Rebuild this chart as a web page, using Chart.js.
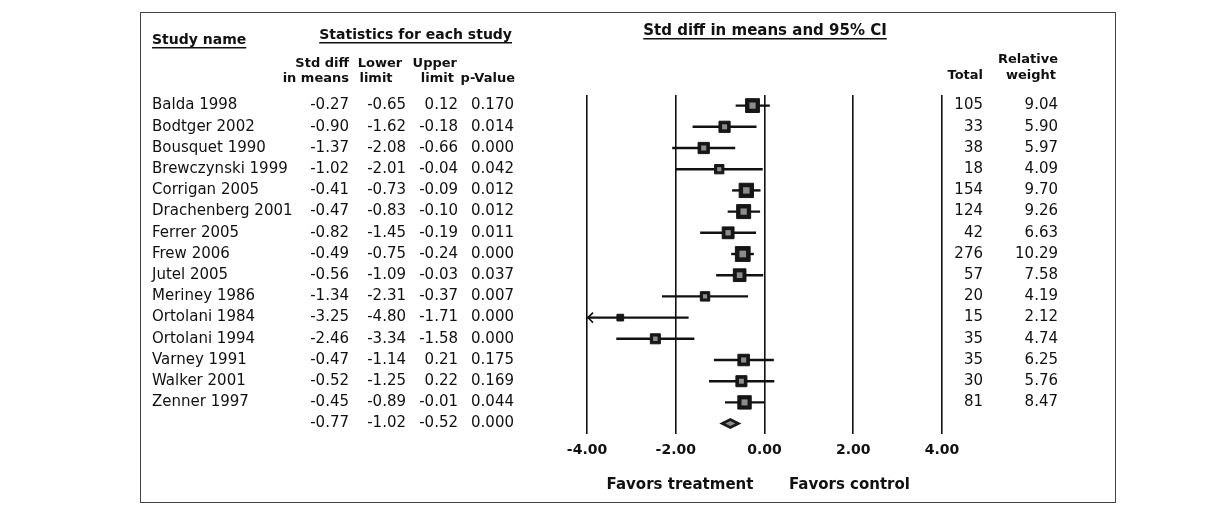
<!DOCTYPE html>
<html>
<head>
<meta charset="utf-8">
<title>Forest plot</title>
<script src="https://cdn.jsdelivr.net/npm/chart.js@4.4.1/dist/chart.umd.min.js"></script>
<style>
  html, body { margin: 0; padding: 0; background: #fff; }
  #wrap { width: 1214px; height: 510px; }
</style>
</head>
<body>
<div id="wrap"><canvas id="forest" width="1214" height="510"></canvas></div>
<script>
// rows of the forest plot, top to bottom
var studies = ['Balda 1998', 'Bodtger 2002', 'Bousquet 1990', 'Brewczynski 1999', 'Corrigan 2005',
  'Drachenberg 2001', 'Ferrer 2005', 'Frew 2006', 'Jutel 2005', 'Meriney 1986',
  'Ortolani 1984', 'Ortolani 1994', 'Varney 1991', 'Walker 2001', 'Zenner 1997'];
var stdDiff    = [-0.27, -0.90, -1.37, -1.02, -0.41, -0.47, -0.82, -0.49, -0.56, -1.34, -3.25, -2.46, -0.47, -0.52, -0.45];
var lowerLimit = [-0.65, -1.62, -2.08, -2.01, -0.73, -0.83, -1.45, -0.75, -1.09, -2.31, -4.80, -3.34, -1.14, -1.25, -0.89];
var upperLimit = [0.12, -0.18, -0.66, -0.04, -0.09, -0.10, -0.19, -0.24, -0.03, -0.37, -1.71, -1.58, 0.21, 0.22, -0.01];
var pValues    = ['0.170', '0.014', '0.000', '0.042', '0.012', '0.012', '0.011', '0.000', '0.037', '0.007',
  '0.000', '0.000', '0.175', '0.169', '0.044'];
var totals     = [105, 33, 38, 18, 154, 124, 42, 276, 57, 20, 15, 35, 35, 30, 81];
var relWeight  = ['9.04', '5.90', '5.97', '4.09', '9.70', '9.26', '6.63', '10.29', '7.58', '4.19',
  '2.12', '4.74', '6.25', '5.76', '8.47'];

// pooled (summary) row: estimate, lower, upper
var pooledStats = [-0.77, -1.02, -0.52];
var pooledP = '0.000';

var xMin = -4, xMax = 4, xStep = 2;

var FONT = '"DejaVu Sans", Verdana, sans-serif';
var INK = '#111';

function boxSide(w) { return Math.sqrt(parseFloat(w)) * 4.6; }

function txt(ctx, s, x, y, align, font, underline) {
  ctx.font = font;
  ctx.textAlign = align;
  ctx.textBaseline = 'middle';
  ctx.fillStyle = INK;
  ctx.fillText(s, x, y);
  if (underline) {
    var w = ctx.measureText(s).width;
    var x0 = align === 'left' ? x : (align === 'right' ? x - w : x - w / 2);
    ctx.fillRect(x0, y + 7, w, 1.5);
  }
}

var forestPlugin = {
  id: 'forest',
  beforeDatasetsDraw: function (chart) {
    var ctx = chart.ctx, xs = chart.scales.x, ys = chart.scales.y;
    ctx.save();
    ctx.strokeStyle = INK;
    ctx.lineWidth = 2.4;
    for (var i = 0; i < studies.length; i++) {
      var lo = Math.max(lowerLimit[i], xMin), hi = Math.min(upperLimit[i], xMax);
      var y = ys.getPixelForValue(i);
      ctx.beginPath();
      ctx.moveTo(xs.getPixelForValue(lo), y);
      ctx.lineTo(xs.getPixelForValue(hi), y);
      ctx.stroke();
      if (lowerLimit[i] < xMin) {
        // arrow for a limit beyond the axis
        var xa = xs.getPixelForValue(xMin);
        ctx.lineWidth = 1.6;
        ctx.beginPath();
        ctx.moveTo(xa + 6, y - 5);
        ctx.lineTo(xa + 1, y);
        ctx.lineTo(xa + 6, y + 5);
        ctx.stroke();
        ctx.lineWidth = 2.4;
      }
    }
    ctx.restore();
  },
  afterDatasetsDraw: function (chart) {
    var ctx = chart.ctx, xs = chart.scales.x, ys = chart.scales.y;
    var meta = chart.getDatasetMeta(0);
    ctx.save();
    // grey speckle inside each box
    meta.data.forEach(function (el, i) {
      var s = boxSide(relWeight[i]) * 0.45;
      if (s < 4) return;
      ctx.fillStyle = '#8c8c8c';
      ctx.fillRect(el.x - s / 2, el.y - s / 2, s, s);
    });
    // pooled diamond
    var yd = ys.getPixelForValue(studies.length);
    var xe = xs.getPixelForValue(pooledStats[0]);
    var xl = xs.getPixelForValue(pooledStats[1]);
    var xh = xs.getPixelForValue(pooledStats[2]);
    ctx.fillStyle = '#1a1a1a';
    ctx.beginPath();
    ctx.moveTo(xl, yd);
    ctx.lineTo(xe, yd - 5.5);
    ctx.lineTo(xh, yd);
    ctx.lineTo(xe, yd + 5.5);
    ctx.closePath();
    ctx.fill();
    ctx.fillStyle = '#8c8c8c';
    ctx.beginPath();
    ctx.moveTo(xe - 5, yd);
    ctx.lineTo(xe, yd - 2.5);
    ctx.lineTo(xe + 5, yd);
    ctx.lineTo(xe, yd + 2.5);
    ctx.closePath();
    ctx.fill();
    ctx.restore();
  },
  afterDraw: function (chart) {
    var ctx = chart.ctx, xs = chart.scales.x, ys = chart.scales.y;
    ctx.save();
    var bold = 'bold 13px ' + FONT;
    var title = 'bold 14px ' + FONT;
    var reg = '15px ' + FONT;

    // outer frame
    ctx.strokeStyle = '#444';
    ctx.lineWidth = 1;
    ctx.strokeRect(140.5, 12.5, 975, 490);

    // headers
    txt(ctx, 'Study name', 152, 40, 'left', title, true);
    txt(ctx, 'Statistics for each study', 512, 35, 'right', title, true);
    txt(ctx, 'Std diff in means and 95% CI', 765, 31, 'center', 'bold 15px ' + FONT, true);
    txt(ctx, 'Std diff', 349, 64, 'right', bold);
    txt(ctx, 'in means', 349, 79, 'right', bold);
    txt(ctx, 'Lower', 380, 64, 'center', bold);
    txt(ctx, 'limit', 376, 79, 'center', bold);
    txt(ctx, 'Upper', 457, 64, 'right', bold);
    txt(ctx, 'limit', 454, 79, 'right', bold);
    txt(ctx, 'p-Value', 515, 79, 'right', bold);
    txt(ctx, 'Relative', 1058, 60, 'right', bold);
    txt(ctx, 'Total', 983, 76, 'right', bold);
    txt(ctx, 'weight', 1056, 76, 'right', bold);

    // table rows
    for (var i = 0; i < studies.length; i++) {
      var y = ys.getPixelForValue(i);
      txt(ctx, studies[i], 152, y, 'left', reg);
      txt(ctx, stdDiff[i].toFixed(2), 349, y, 'right', reg);
      txt(ctx, lowerLimit[i].toFixed(2), 406, y, 'right', reg);
      txt(ctx, upperLimit[i].toFixed(2), 458, y, 'right', reg);
      txt(ctx, pValues[i], 514, y, 'right', reg);
      txt(ctx, String(totals[i]), 983, y, 'right', reg);
      txt(ctx, relWeight[i], 1058, y, 'right', reg);
    }
    var yp = ys.getPixelForValue(studies.length);
    txt(ctx, pooledStats[0].toFixed(2), 349, yp, 'right', reg);
    txt(ctx, pooledStats[1].toFixed(2), 406, yp, 'right', reg);
    txt(ctx, pooledStats[2].toFixed(2), 458, yp, 'right', reg);
    txt(ctx, pooledP, 514, yp, 'right', reg);

    // direction labels under the axis
    var yl = 485;
    var dirFont = 'bold 15px ' + FONT;
    txt(ctx, 'Favors treatment', xs.getPixelForValue(-0.25), yl, 'right', dirFont);
    txt(ctx, 'Favors control', xs.getPixelForValue(0.55), yl, 'left', dirFont);
    ctx.restore();
  }
};

var ctx = document.getElementById('forest').getContext('2d');
new Chart(ctx, {
  type: 'scatter',
  data: {
    datasets: [{
      data: stdDiff.map(function (v, i) { return { x: v, y: i }; }),
      pointStyle: 'rect',
      pointRadius: relWeight.map(function (w) { return boxSide(w) / Math.SQRT2; }),
      pointHoverRadius: relWeight.map(function (w) { return boxSide(w) / Math.SQRT2; }),
      backgroundColor: '#161616',
      borderColor: '#161616',
      borderWidth: 1
    }]
  },
  options: {
    responsive: false,
    animation: false,
    events: [],
    layout: { padding: { left: 587, right: 272, top: 95, bottom: 43 } },
    plugins: { legend: { display: false }, tooltip: { enabled: false } },
    scales: {
      x: {
        type: 'linear',
        min: xMin,
        max: xMax,
        grid: { color: INK, lineWidth: 1.6, drawTicks: false },
        border: { display: false },
        ticks: {
          stepSize: xStep,
          padding: 8,
          color: INK,
          font: { family: FONT, size: 14, weight: 'bold' },
          callback: function (v) { return Number(v).toFixed(2); }
        }
      },
      y: {
        type: 'linear',
        min: -0.5,
        max: studies.length + 0.5,
        reverse: true,
        display: false
      }
    }
  },
  plugins: [forestPlugin]
});
</script>
</body>
</html>
